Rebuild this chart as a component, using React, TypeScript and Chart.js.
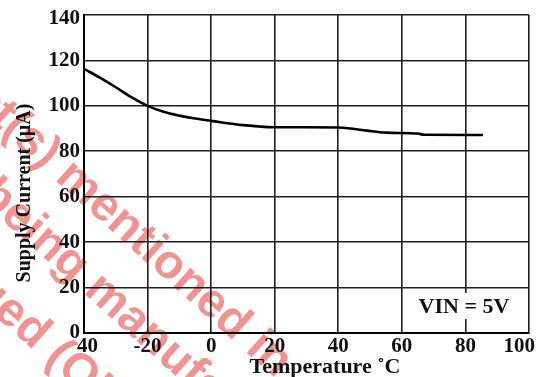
import React, { useEffect, useRef } from "react";
import { Chart, registerables } from "chart.js";

Chart.register(...registerables);

// Series: supply current (µA) vs temperature (°C), VIN = 5V
const temperatures = [-40, -35, -30, -25, -20, -15, -10, -5, 0, 10, 20, 40, 44, 49, 55, 65, 67, 85.5];
const supplyCurrent = [116.3, 112.4, 108.2, 103.7, 100, 97.4, 95.7, 94.4, 93.4, 91.5, 90.6, 90.5, 90.0, 89.1, 88.2, 87.8, 87.3, 87.2];

// Axes
const xTickValues = [-40, -20, 0, 20, 40, 60, 80, 100];
const xTickLabels = ["40", "-20", "0", "20", "40", "60", "80", "100"];
const yTickValues = [0, 20, 40, 60, 80, 100, 120, 140];
const yTickLabels = ["0", "20", "40", "60", "80", "100", "120", "140"];
const xTitle = "Temperature ˚C";
const yTitle = "Supply Current (µA)";
const noteText = "VIN = 5V";

// Watermark: [prefix (mostly off-canvas), rest]
const watermarkPrefixes = ["Product(s) ", "are being ", "discontinued "];
const watermarkRests = ["mentioned in", "manufactured", "(Obsolete)"];

const SERIF = '"Liberation Serif", "Times New Roman", serif';

const watermarkPlugin = {
  id: "watermark",
  beforeDraw(chart: any) {
    const ctx = chart.ctx as CanvasRenderingContext2D;
    ctx.save();
    ctx.beginPath();
    ctx.rect(0, 0, chart.width, chart.height);
    ctx.clip();
    ctx.rotate((42 * Math.PI) / 180);
    ctx.font = `bold 48px "Liberation Sans", Arial, sans-serif`;
    ctx.fillStyle = "rgba(225, 40, 40, 0.5)";
    ctx.textAlign = "left";
    ctx.textBaseline = "alphabetic";
    const starts = [160, 257, 273];
    const baselines = [97, 162, 238];
    watermarkRests.forEach((rest, i) => {
      const prefix = watermarkPrefixes[i];
      const pw = ctx.measureText(prefix).width;
      ctx.fillText(prefix + rest, starts[i] - pw, baselines[i]);
    });
    ctx.restore();
  },
};

const overlayPlugin = {
  id: "overlay",
  afterDraw(chart: any) {
    const ctx = chart.ctx as CanvasRenderingContext2D;
    const xs = chart.scales.x;
    const ys = chart.scales.y;
    ctx.save();
    ctx.fillStyle = "#111";

    // x tick labels
    ctx.font = `bold 21px ${SERIF}`;
    ctx.textBaseline = "middle";
    ctx.textAlign = "left";
    xTickValues.forEach((v, i) => {
      const label = xTickLabels[i];
      const w = ctx.measureText(label).width;
      let left = xs.getPixelForValue(v) - w / 2;
      if (left < 77) left = 77;
      if (left + w > 535) left = 535 - w;
      ctx.fillText(label, left, 347);
    });

    // y tick labels
    ctx.textAlign = "right";
    yTickValues.forEach((v, i) => {
      let y = ys.getPixelForValue(v);
      if (y < 19) y = 19;
      ctx.fillText(yTickLabels[i], 80, y);
    });

    // x title
    ctx.font = `bold 22px ${SERIF}`;
    ctx.textAlign = "center";
    ctx.textBaseline = "middle";
    ctx.fillText(xTitle, 325, 367);

    // y title
    ctx.save();
    ctx.translate(25, 193);
    ctx.rotate(-Math.PI / 2);
    ctx.font = `bold 20px ${SERIF}`;
    ctx.fillText(yTitle, 0, 0);
    ctx.restore();

    // note box
    ctx.font = `bold 22px ${SERIF}`;
    const nw = ctx.measureText(noteText).width;
    const cx = 464;
    const cy = 306;
    ctx.fillStyle = "#fff";
    ctx.fillRect(cx - nw / 2 - 3, cy - 13, nw + 6, 26);
    ctx.fillStyle = "#111";
    ctx.fillText(noteText, cx, cy + 1);

    ctx.restore();
  },
};

export default function App() {
  const ref = useRef<HTMLCanvasElement | null>(null);
  useEffect(() => {
    if (!ref.current) return;
    const chart = new Chart(ref.current, {
      type: "line",
      data: {
        datasets: [
          {
            data: temperatures.map((t, i) => ({ x: t, y: supplyCurrent[i] })),
            borderColor: "#000",
            borderWidth: 2.6,
            pointRadius: 0,
            cubicInterpolationMode: "monotone",
            fill: false,
          },
        ],
      },
      options: {
        animation: false,
        responsive: false,
        layout: { padding: { left: 84, right: 15, top: 15, bottom: 44 } },
        plugins: { legend: { display: false }, tooltip: { enabled: false } },
        scales: {
          x: {
            type: "linear",
            min: -40,
            max: 100,
            ticks: { display: false, stepSize: 20 },
            grid: { color: "#1e1e1e", lineWidth: 1.6, drawTicks: false },
            border: { display: true, color: "#000", width: 2 },
          },
          y: {
            type: "linear",
            min: 0,
            max: 140,
            ticks: { display: false, stepSize: 20 },
            grid: { color: "#1e1e1e", lineWidth: 1.6, drawTicks: false },
            border: { display: true, color: "#000", width: 2 },
          },
        },
      },
      plugins: [watermarkPlugin, overlayPlugin],
    });
    return () => chart.destroy();
  }, []);
  return (
    <div style={{ position: "absolute", left: 0, top: 0, width: 544, height: 377, background: "#fff" }}>
      <canvas ref={ref} width={544} height={377} style={{ display: "block" }} />
    </div>
  );
}
